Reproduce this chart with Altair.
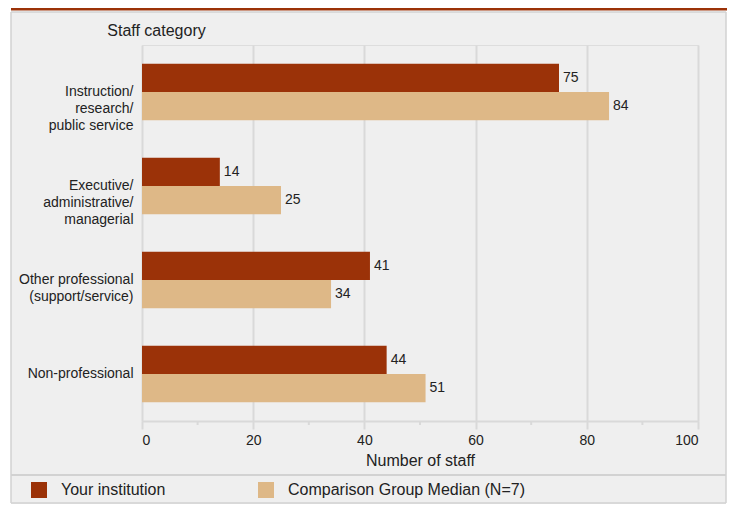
import altair as alt
import pandas as pd

# ---- data ----
categories = [
    "Instruction/\nresearch/\npublic service",
    "Executive/\nadministrative/\nmanagerial",
    "Other professional\n(support/service)",
    "Non-professional",
]
series_names = ["Your institution", "Comparison Group Median (N=7)"]
your_institution = [75, 14, 41, 44]
comparison_median = [84, 25, 34, 51]
major_ticks = [0, 20, 40, 60, 80, 100]
minor_ticks = [10, 30, 50, 70, 90]
colors = ["#9b3208", "#deb887"]

rows = []
for c, v in zip(categories, your_institution):
    rows.append({"category": c, "series": series_names[0], "value": v})
for c, v in zip(categories, comparison_median):
    rows.append({"category": c, "series": series_names[1], "value": v})
df = pd.DataFrame(rows)

W, H = 556, 376
FONT = "Liberation Sans"
TXT = "#222222"
GRID = "#d9d9d9"
FRAME = "#d2d2d2"

one = pd.DataFrame({"a": [0]})

def strip(x1, x2, y1, y2, color):
    return alt.Chart(one).mark_rect(color=color).encode(
        x=alt.value(x1), x2=alt.value(x2), y=alt.value(y1), y2=alt.value(y2)
    )

def line(x1, x2, y1, y2, color, w):
    return alt.Chart(one).mark_rule(color=color, strokeWidth=w).encode(
        x=alt.value(x1), x2=alt.value(x2), y=alt.value(y1), y2=alt.value(y2)
    )

BOTTOM = 458  # frame bottom in plot coords
RIGHT = 584   # frame right in plot coords
# decorations (page coords minus plot origin 142,45)
deco = [
    strip(-134, RIGHT + 3, -37, -33, "white"),
    strip(-134, -131, -37, BOTTOM + 1, "white"),
    strip(RIGHT, RIGHT + 3, -37, BOTTOM + 1, "white"),
    strip(-131, RIGHT + 3, -37, -34.5, "#9b3208"),
    line(-131, RIGHT, -33, -33, FRAME, 1.5),
    line(-131, RIGHT, BOTTOM, BOTTOM, FRAME, 1.5),
    line(-131, -131, -33, BOTTOM, FRAME, 1.5),
    line(RIGHT, RIGHT, -33, BOTTOM, FRAME, 1.5),
    line(-131, RIGHT, 430, 430, FRAME, 2),
]

y_enc = alt.Y(
    "category:N",
    sort=categories,
    scale=alt.Scale(paddingInner=0.4, paddingOuter=0.2),
    axis=alt.Axis(
        title="Staff category",
        titleAngle=0,
        titleAlign="center",
        titleBaseline="middle",
        titleX=14,
        titleY=-15,
        titleFontSize=16,
        titleFontWeight="normal",
        titleColor=TXT,
        titleFont=FONT,
        labelExpr="split(datum.label, '\\n')",
        labelFontSize=14,
        labelLineHeight=17,
        labelColor=TXT,
        labelFont=FONT,
        labelPadding=9,
        labelLimit=300,
        ticks=False,
        domain=False,
        grid=False,
    ),
)

x_enc = alt.X(
    "value:Q",
    scale=alt.Scale(domain=[0, 100], nice=False),
    axis=alt.Axis(
        title="Number of staff",
        values=major_ticks,
        format="d",
        titleFontSize=16,
        titleFontWeight="normal",
        titleColor=TXT,
        titleFont=FONT,
        titlePadding=5,
        labelFontSize=14,
        labelColor=TXT,
        labelFont=FONT,
        labelPadding=4,
        tickSize=8,
        tickColor=GRID,
        tickWidth=2,
        domainColor=GRID,
        domainWidth=2,
        gridColor=GRID,
        gridWidth=2,
    ),
)

color_enc = alt.Color(
    "series:N",
    sort=series_names,
    scale=alt.Scale(domain=series_names, range=colors),
    legend=alt.Legend(
        title=None,
        orient="none",
        legendX=-111,
        legendY=437,
        direction="horizontal",
        symbolType="square",
        symbolSize=256,
        symbolStrokeWidth=0,
        labelFontSize=16,
        labelColor=TXT,
        labelFont=FONT,
        labelOffset=14,
        labelLimit=500,
        columnPadding=92,
        padding=0,
    ),
)

yoff = alt.YOffset("series:N", sort=series_names, scale=alt.Scale(paddingInner=0, paddingOuter=0))

bars = alt.Chart(df).mark_bar(stroke=None).encode(
    y=y_enc, x=x_enc, color=color_enc, yOffset=yoff
)
labels = alt.Chart(df).mark_text(
    align="left", baseline="middle", dx=4, fontSize=14, font=FONT, color=TXT
).encode(
    y=alt.Y("category:N", sort=categories), x="value:Q", yOffset=yoff, text="value:Q"
)

minor = alt.Chart(pd.DataFrame({"t": minor_ticks})).mark_rule(
    color=GRID, strokeWidth=2
).encode(x=alt.X("t:Q"), y=alt.value(H), y2=alt.value(H + 4))

chart = alt.layer(*deco, minor, bars, labels).properties(
    width=W,
    height=H,
    background="#efefef",
    padding={"left": 134, "top": 37, "right": 29, "bottom": 83},
    autosize=alt.AutoSizeParams(type="none"),
).configure_view(stroke=GRID, strokeWidth=2).configure(font=FONT)

chart.save("out.html", embed_options={"renderer": "svg", "actions": False})
